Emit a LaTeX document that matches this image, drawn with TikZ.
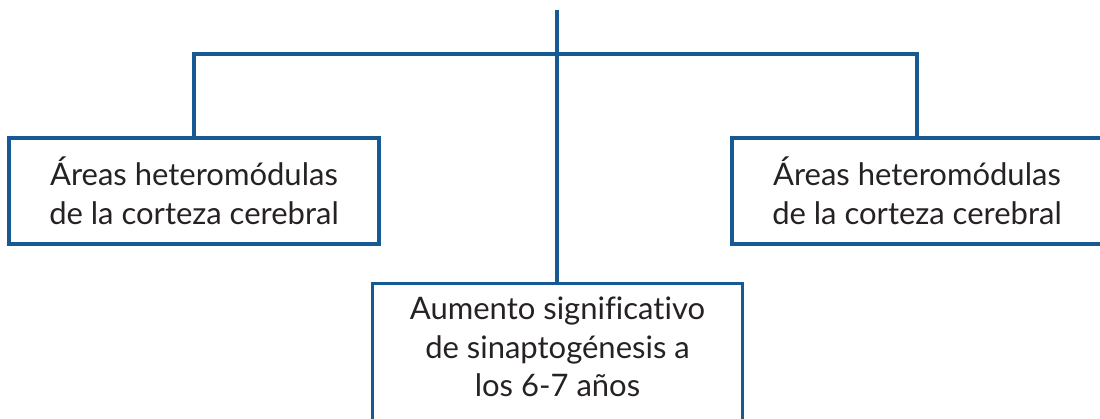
\documentclass[tikz,border=0pt]{standalone}
\usepackage{fontspec}
\setmainfont[Ligatures=NoCommon]{Lato}
\definecolor{lineblue}{RGB}{22,89,147}
\definecolor{txtgray}{RGB}{38,34,35}
\begin{document}
\begin{tikzpicture}[x=1pt,y=1pt,
  box/.style={draw=lineblue, line width=3.3pt, rectangle, inner sep=0pt, minimum width=370pt},
  txt/.style={text=txtgray, font=\fontsize{31}{38.5}\selectfont, align=center, inner sep=0pt},
  link/.style={draw=lineblue, line width=3.3pt}]
\useasboundingbox (0,0) rectangle (1100,418);
\node[box, txt, minimum height=106pt] (left) at (194,227) {Áreas heteromódulas\\de la corteza cerebral};
\node[box, txt, minimum height=106pt] (right) at (917,227) {Áreas heteromódulas\\de la corteza cerebral};
\node[box, anchor=north, minimum height=170pt] (bottom) at (557.5,136) {};
\node[txt, anchor=north] (bottomtext) at (bottom.north |- 0,121) {Aumento significativo\\de sinaptogénesis a\\los 6-7 años};
\coordinate (top) at (557,408);
\coordinate (junction) at (557,364);
\draw[link] (top) -- (top |- bottom.north);
\draw[link] (left.north) -- (left.north |- junction) -- (right.north |- junction) -- (right.north);
\end{tikzpicture}
\end{document}
